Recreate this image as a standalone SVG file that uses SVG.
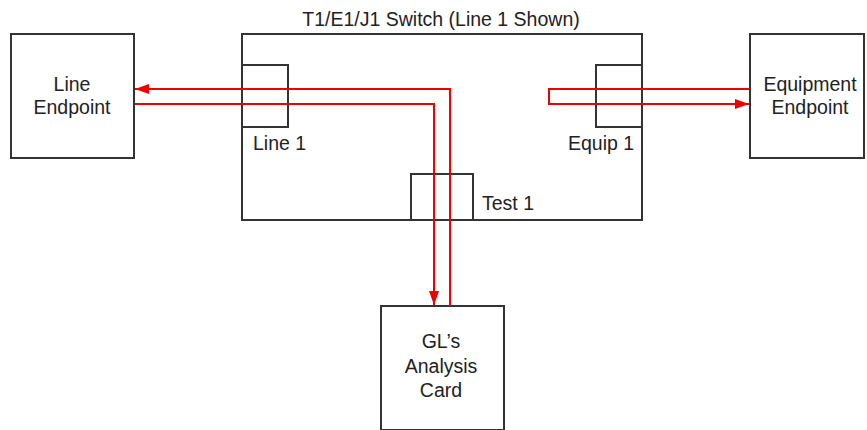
<svg xmlns="http://www.w3.org/2000/svg" width="867" height="430" viewBox="0 0 867 430">
<style>
.box{fill:#fff;stroke:#333;stroke-width:2}
.port{fill:none;stroke:#333;stroke-width:2}
.t{font-family:"Liberation Sans",Arial,sans-serif;font-size:19.5px;fill:#222}
.c{text-anchor:middle}
.w{fill:none;stroke:#e00;stroke-width:2}
</style>
<defs>
<marker id="ah" markerWidth="14" markerHeight="10" refX="14" refY="5" orient="auto" markerUnits="userSpaceOnUse">
<path d="M0,0 L14,5 L0,10 z" fill="#e00"/>
</marker>
</defs>
<rect width="867" height="430" fill="#fff"/>
<g id="switch">
<rect class="box" x="242" y="34" width="400" height="186"/>
<text class="t c" x="441" y="26">T1/E1/J1 Switch (Line 1 Shown)</text>
</g>
<g id="line1">
<rect class="port" x="242" y="65" width="46" height="62"/>
<text class="t" x="253" y="150">Line 1</text>
</g>
<g id="equip1">
<rect class="port" x="596" y="65" width="46" height="62"/>
<text class="t" x="568" y="150">Equip 1</text>
</g>
<g id="test1">
<rect class="port" x="411" y="174" width="62" height="46"/>
<text class="t" x="482" y="210">Test 1</text>
</g>
<g id="line-endpoint">
<rect class="box" x="11" y="34" width="123" height="124"/>
<text class="t c" x="72" y="91">Line</text>
<text class="t c" x="72" y="114">Endpoint</text>
</g>
<g id="equipment-endpoint">
<rect class="box" x="750" y="34" width="114" height="124"/>
<text class="t c" x="810" y="91">Equipment</text>
<text class="t c" x="810" y="114">Endpoint</text>
</g>
<g id="analysis-card">
<rect class="box" x="381" y="306" width="123" height="124"/>
<text class="t c" x="441" y="348">GL’s</text>
<text class="t c" x="441" y="373">Analysis</text>
<text class="t c" x="441" y="397">Card</text>
</g>
<g id="connectors">
<polyline class="w" points="450,306 450,89 135,89" marker-end="url(#ah)"/>
<polyline class="w" points="135,104 434,104 434,305" marker-end="url(#ah)"/>
<polyline class="w" points="749,89 549,89 549,104 749,104" marker-end="url(#ah)"/>
</g>
</svg>
